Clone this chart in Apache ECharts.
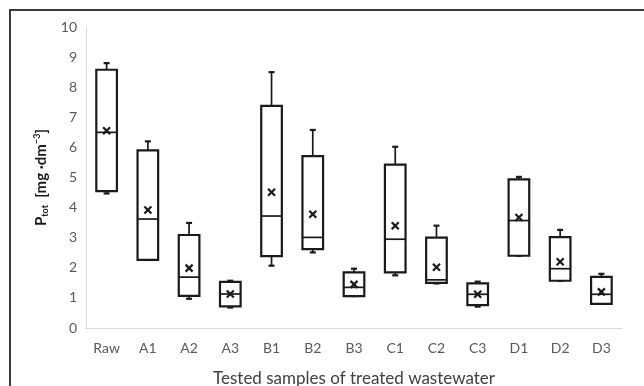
<!DOCTYPE html>
<html>
<head>
<meta charset="utf-8">
<script src="https://cdn.jsdelivr.net/npm/echarts@6/dist/echarts.min.js"></script>
<style>
html,body{margin:0;padding:0;background:#fff;}
#c{width:644px;height:386px;}
</style>
</head>
<body>
<div id="c"></div>
<script>
const categories = ['Raw','A1','A2','A3','B1','B2','B3','C1','C2','C3','D1','D2','D3'];
const whiskerLow = [4.47, 2.26, 0.97, 0.68, 2.07, 2.51, 1.06, 1.75, 1.48, 0.71, 2.40, 1.57, 0.80];
const q1         = [4.55, 2.26, 1.07, 0.72, 2.39, 2.62, 1.06, 1.85, 1.50, 0.76, 2.40, 1.57, 0.80];
const median     = [6.50, 3.62, 1.69, 1.13, 3.72, 3.01, 1.35, 2.95, 1.60, 1.12, 3.57, 1.97, 1.12];
const q3         = [8.58, 5.90, 3.09, 1.53, 7.38, 5.71, 1.85, 5.43, 3.00, 1.48, 4.94, 3.02, 1.70];
const whiskerHigh= [8.80, 6.20, 3.49, 1.57, 8.50, 6.58, 1.97, 6.02, 3.40, 1.54, 5.02, 3.26, 1.80];
const mean       = [6.55, 3.92, 1.99, 1.13, 4.51, 3.78, 1.45, 3.40, 2.02, 1.12, 3.67, 2.20, 1.20];
const yTicks = [0,1,2,3,4,5,6,7,8,9,10];

const data = categories.map((c,i)=>[i, whiskerLow[i], q1[i], median[i], q3[i], whiskerHigh[i], mean[i]]);
const INK = '#1a1a1a';

function renderItem(params, api){
  const i = api.value(0);
  const band = api.size([1,0])[0];
  const bw = band*0.5;
  const cx = api.coord([i,0])[0];
  const yLow = api.coord([i, api.value(1)])[1];
  const yQ1 = api.coord([i, api.value(2)])[1];
  const yMed = api.coord([i, api.value(3)])[1];
  const yQ3 = api.coord([i, api.value(4)])[1];
  const yHigh = api.coord([i, api.value(5)])[1];
  const yMean = api.coord([i, api.value(6)])[1];
  const cap = 3;
  const m = 3.5;
  const children = [];
  children.push({type:'line', shape:{x1:cx,y1:yQ3,x2:cx,y2:yHigh}, style:{stroke:INK,lineWidth:1.7}});
  children.push({type:'line', shape:{x1:cx-cap,y1:yHigh,x2:cx+cap,y2:yHigh}, style:{stroke:INK,lineWidth:2.2}});
  children.push({type:'line', shape:{x1:cx,y1:yQ1,x2:cx,y2:yLow}, style:{stroke:INK,lineWidth:1.7}});
  children.push({type:'line', shape:{x1:cx-cap,y1:yLow,x2:cx+cap,y2:yLow}, style:{stroke:INK,lineWidth:2.2}});
  children.push({type:'rect', shape:{x:cx-bw/2,y:yQ3,width:bw,height:yQ1-yQ3}, style:{fill:'#fff',stroke:INK,lineWidth:2.2}});
  children.push({type:'line', shape:{x1:cx-bw/2,y1:yMed,x2:cx+bw/2,y2:yMed}, style:{stroke:INK,lineWidth:1.7}});
  children.push({type:'line', shape:{x1:cx-m,y1:yMean-m,x2:cx+m,y2:yMean+m}, style:{stroke:INK,lineWidth:2.2}});
  children.push({type:'line', shape:{x1:cx-m,y1:yMean+m,x2:cx+m,y2:yMean-m}, style:{stroke:INK,lineWidth:2.2}});
  return {type:'group', children};
}

const chart = echarts.init(document.getElementById('c'));
chart.setOption({
  animation:false,
  backgroundColor:'#fff',
  textStyle:{fontFamily:'Lato'},
  graphic:[{
    type:'polyline', silent:true,
    shape:{points:[[10,390],[10,10],[650,10]]},
    style:{stroke:'#3a3a3a', lineWidth:2, fill:null}
  }],
  grid:{left:86, right:22, top:27, bottom:58, containLabel:false, outerBoundsMode:'none'},
  xAxis:{
    type:'category', data:categories,
    axisLine:{lineStyle:{color:'#d9d9d9', width:1}},
    axisTick:{show:false},
    axisLabel:{color:'#595959', fontSize:14, fontFamily:'Lato', margin:13},
    name:'Tested samples of treated wastewater',
    nameLocation:'middle', nameGap:42,
    nameTextStyle:{color:'#404040', fontSize:17, fontFamily:'Lato'}
  },
  yAxis:{
    type:'value', min:0, max:10, interval:1,
    axisLine:{show:true, lineStyle:{color:'#d9d9d9', width:1}},
    axisTick:{show:false},
    splitLine:{show:false},
    axisLabel:{color:'#595959', fontSize:14, fontFamily:'Lato', margin:9,
      formatter:function(v){ return yTicks.indexOf(v)>=0 ? String(v) : ''; }},
    name:'{p|P}{sub|tot}{p|  [mg ·dm}{sup|−3}{p|]}',
    nameLocation:'middle', nameGap:33, nameRotate:90,
    nameTextStyle:{
      rich:{
        p:{fontSize:15, fontWeight:'bold', color:'#1a1a1a', fontFamily:'Lato', verticalAlign:'middle'},
        sub:{fontSize:9, fontWeight:'bold', color:'#1a1a1a', fontFamily:'Lato', verticalAlign:'bottom', padding:[8,0,0,0]},
        sup:{fontSize:9, fontWeight:'bold', color:'#1a1a1a', fontFamily:'Lato', verticalAlign:'top', padding:[0,0,8,0]}
      }
    }
  },
  series:[{
    type:'custom',
    renderItem:renderItem,
    data:data,
    encode:{x:0, y:[1,2,3,4,5,6]},
    clip:false
  }]
});
</script>
</body>
</html>
